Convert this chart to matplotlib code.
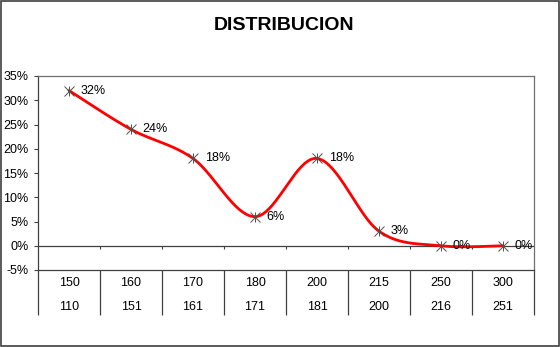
import numpy as np
import matplotlib
matplotlib.use("Agg")
import matplotlib.pyplot as plt
from matplotlib.patches import Rectangle
from matplotlib.transforms import blended_transform_factory

plt.rcParams['font.family'] = ['Liberation Sans', 'DejaVu Sans']

# Upper and lower bounds of each class, share of total in each class
upper = ["150", "160", "170", "180", "200", "215", "250", "300"]
lower = ["110", "151", "161", "171", "181", "200", "216", "251"]
share = [0.32, 0.24, 0.18, 0.06, 0.18, 0.03, 0.0, 0.0]
y_ticks = [-0.05, 0.0, 0.05, 0.10, 0.15, 0.20, 0.25, 0.30, 0.35]


def smooth(xs, ys, steps=40):
    """Catmull-Rom style Bezier smoothing through every point."""
    xs = np.asarray(xs, float)
    ys = np.asarray(ys, float)
    n = len(xs)
    px, py = [], []
    for i in range(n - 1):
        i0, i2, i3 = max(i - 1, 0), i + 1, min(i + 2, n - 1)
        p0 = np.array([xs[i], ys[i]])
        p3 = np.array([xs[i2], ys[i2]])
        c1 = p0 + (np.array([xs[i2], ys[i2]]) - np.array([xs[i0], ys[i0]])) / 6
        c2 = p3 - (np.array([xs[i3], ys[i3]]) - p0) / 6
        t = np.linspace(0, 1, steps)[:, None]
        pts = ((1 - t) ** 3) * p0 + 3 * ((1 - t) ** 2) * t * c1 + 3 * (1 - t) * t ** 2 * c2 + t ** 3 * p3
        px.extend(pts[:, 0])
        py.extend(pts[:, 1])
    return np.array(px), np.array(py)


W, H = 560, 347
fig = plt.figure(figsize=(W / 100, H / 100), dpi=100)
ax = fig.add_axes([38 / W, 1 - 270 / H, (534 - 38) / W, (270 - 76) / H])

x = np.arange(len(share))
sx, sy = smooth(x, share)
ax.plot(sx, sy, color="#ff0000", lw=2.0, solid_capstyle="round", zorder=3)
ax.plot(x, share, linestyle="none", marker="x", ms=7, mew=0.7, color="#505050", zorder=4)
ax.plot(x, share, linestyle="none", marker="|", ms=7, mew=0.7, color="#505050", zorder=4)

for xi, v in zip(x, share):
    ax.annotate(f"{v:.0%}", (xi, v), xytext=(8.5, 0), textcoords="offset points",
                ha="left", va="center", fontsize=9, color="black", zorder=5)

ax.set_xlim(-0.5, len(share) - 0.5)
ax.set_ylim(-0.05, 0.35)
ax.set_yticks(y_ticks)
ax.set_yticklabels([f"{t:.0%}" for t in y_ticks], fontsize=9)
ax.tick_params(axis="y", direction="out", length=3, width=0.8, color="#404040", pad=4)
ax.set_xticks([])

for side in ["top", "right"]:
    ax.spines[side].set_color("#707070")
    ax.spines[side].set_linewidth(0.9)
ax.spines["left"].set_color("#404040")
ax.spines["left"].set_linewidth(0.9)
ax.spines["bottom"].set_color("#404040")
ax.spines["bottom"].set_linewidth(0.9)

# category axis crossing at zero with boundary ticks
ax.axhline(0, color="#404040", lw=0.9, zorder=2)
bounds = np.arange(len(share) + 1) - 0.5
ax.vlines(bounds[1:-1], -0.006, 0, color="#404040", lw=0.8, zorder=2)

# two-row category table under the plot area
tr = blended_transform_factory(ax.transData, ax.transAxes)
ax.vlines(bounds, -(315 - 270) / 194, 0, transform=tr, color="#404040",
          lw=0.9, clip_on=False)
for xi, a, b in zip(x, upper, lower):
    ax.text(xi, -13.5 / 194, a, transform=tr, ha="center", va="center", fontsize=9)
    ax.text(xi, -36.5 / 194, b, transform=tr, ha="center", va="center", fontsize=9)

fig.text(284 / W, 1 - 25 / H, "DISTRIBUCION", ha="center", va="center",
         fontsize=14, fontweight="bold")

fig.patches.append(Rectangle((0.5 / W, 1 / H), (W - 1.5) / W, (H - 1.5) / H,
                             transform=fig.transFigure, fill=False,
                             edgecolor="#404040", lw=1.2))

fig.savefig("out.png", dpi=100)
